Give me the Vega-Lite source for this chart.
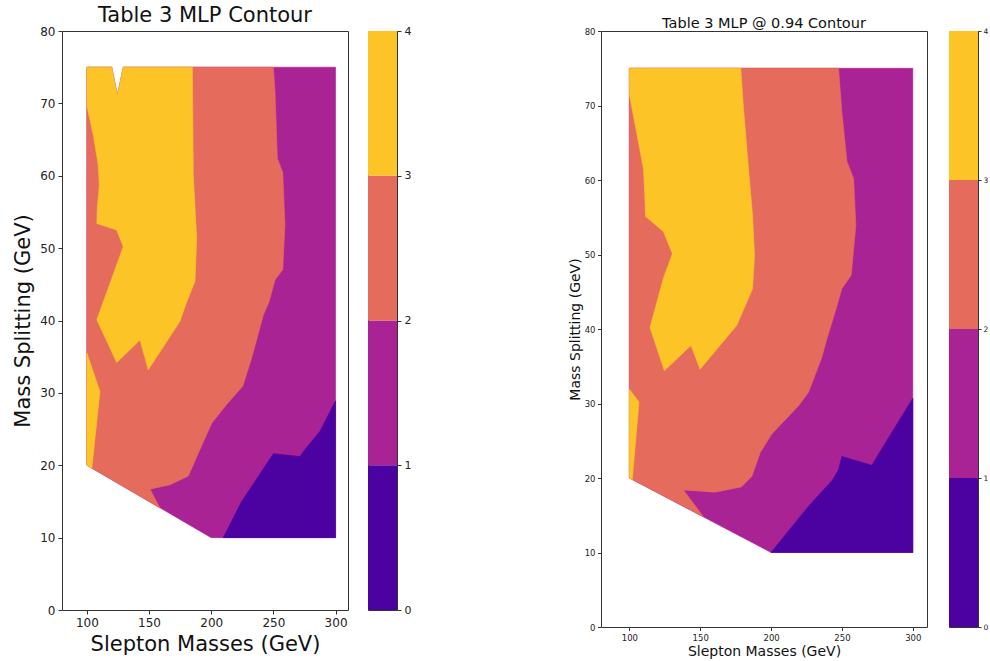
{
  "$schema": "https://vega.github.io/schema/vega-lite/v6.json",
  "padding": {"left": 12, "top": 4, "right": 0, "bottom": 0},
  "config": {
    "view": {"stroke": "#333", "strokeWidth": 1},
    "axis": {"grid": false, "domain": false, "labelFont": "DejaVu Sans", "titleFont": "DejaVu Sans", "titleFontWeight": "normal", "labelColor": "#222", "titleColor": "#111", "tickColor": "#333"},
    "title": {"font": "DejaVu Sans", "fontWeight": "normal", "color": "#111"}
  },
  "datasets": {
    "left": [
      {"p": "base", "lvl": "L1", "i": 0, "x": 100, "y": 75},
      {"p": "base", "lvl": "L1", "i": 1, "x": 120, "y": 75},
      {"p": "base", "lvl": "L1", "i": 2, "x": 124.5, "y": 71.1},
      {"p": "base", "lvl": "L1", "i": 3, "x": 129.3, "y": 75},
      {"p": "base", "lvl": "L1", "i": 4, "x": 300, "y": 75},
      {"p": "base", "lvl": "L1", "i": 5, "x": 300, "y": 10},
      {"p": "base", "lvl": "L1", "i": 6, "x": 200, "y": 10},
      {"p": "base", "lvl": "L1", "i": 7, "x": 100, "y": 20},
      {"p": "base", "lvl": "L1", "i": 8, "x": 100, "y": 75},
      {"p": "dark", "lvl": "L0", "i": 0, "x": 209.7, "y": 10},
      {"p": "dark", "lvl": "L0", "i": 1, "x": 224.5, "y": 15.0},
      {"p": "dark", "lvl": "L0", "i": 2, "x": 244.6, "y": 20.2},
      {"p": "dark", "lvl": "L0", "i": 3, "x": 250, "y": 21.6},
      {"p": "dark", "lvl": "L0", "i": 4, "x": 271.4, "y": 21.2},
      {"p": "dark", "lvl": "L0", "i": 5, "x": 274.1, "y": 21.9},
      {"p": "dark", "lvl": "L0", "i": 6, "x": 287.5, "y": 24.7},
      {"p": "dark", "lvl": "L0", "i": 7, "x": 300, "y": 28.9},
      {"p": "dark", "lvl": "L0", "i": 8, "x": 300, "y": 10},
      {"p": "dark", "lvl": "L0", "i": 9, "x": 209.7, "y": 10},
      {"p": "salmon", "lvl": "L2", "i": 0, "x": 100, "y": 75},
      {"p": "salmon", "lvl": "L2", "i": 1, "x": 120, "y": 75},
      {"p": "salmon", "lvl": "L2", "i": 2, "x": 124.5, "y": 71.1},
      {"p": "salmon", "lvl": "L2", "i": 3, "x": 129.3, "y": 75},
      {"p": "salmon", "lvl": "L2", "i": 4, "x": 250, "y": 75},
      {"p": "salmon", "lvl": "L2", "i": 5, "x": 251.3, "y": 71.6},
      {"p": "salmon", "lvl": "L2", "i": 6, "x": 253.2, "y": 62.4},
      {"p": "salmon", "lvl": "L2", "i": 7, "x": 257.5, "y": 60.5},
      {"p": "salmon", "lvl": "L2", "i": 8, "x": 259.3, "y": 53.2},
      {"p": "salmon", "lvl": "L2", "i": 9, "x": 257.5, "y": 47.0},
      {"p": "salmon", "lvl": "L2", "i": 10, "x": 251.3, "y": 45.6},
      {"p": "salmon", "lvl": "L2", "i": 11, "x": 246.5, "y": 42.6},
      {"p": "salmon", "lvl": "L2", "i": 12, "x": 242, "y": 40.8},
      {"p": "salmon", "lvl": "L2", "i": 13, "x": 232.5, "y": 34.8},
      {"p": "salmon", "lvl": "L2", "i": 14, "x": 225.3, "y": 30.9},
      {"p": "salmon", "lvl": "L2", "i": 15, "x": 212.4, "y": 28.4},
      {"p": "salmon", "lvl": "L2", "i": 16, "x": 200.4, "y": 25.8},
      {"p": "salmon", "lvl": "L2", "i": 17, "x": 191, "y": 22.2},
      {"p": "salmon", "lvl": "L2", "i": 18, "x": 181.6, "y": 18.5},
      {"p": "salmon", "lvl": "L2", "i": 19, "x": 166.9, "y": 17.3},
      {"p": "salmon", "lvl": "L2", "i": 20, "x": 150.8, "y": 16.7},
      {"p": "salmon", "lvl": "L2", "i": 21, "x": 158.8, "y": 14.1},
      {"p": "salmon", "lvl": "L2", "i": 22, "x": 100, "y": 20},
      {"p": "salmon", "lvl": "L2", "i": 23, "x": 100, "y": 75},
      {"p": "y1", "lvl": "L3", "i": 0, "x": 100, "y": 75},
      {"p": "y1", "lvl": "L3", "i": 1, "x": 120, "y": 75},
      {"p": "y1", "lvl": "L3", "i": 2, "x": 124.5, "y": 71.1},
      {"p": "y1", "lvl": "L3", "i": 3, "x": 129.3, "y": 75},
      {"p": "y1", "lvl": "L3", "i": 4, "x": 184.8, "y": 75},
      {"p": "y1", "lvl": "L3", "i": 5, "x": 185.6, "y": 60.1},
      {"p": "y1", "lvl": "L3", "i": 6, "x": 188.3, "y": 51.4},
      {"p": "y1", "lvl": "L3", "i": 7, "x": 186.9, "y": 45.4},
      {"p": "y1", "lvl": "L3", "i": 8, "x": 180.3, "y": 42.6},
      {"p": "y1", "lvl": "L3", "i": 9, "x": 174.9, "y": 39.9},
      {"p": "y1", "lvl": "L3", "i": 10, "x": 149.4, "y": 33.2},
      {"p": "y1", "lvl": "L3", "i": 11, "x": 142.7, "y": 37.3},
      {"p": "y1", "lvl": "L3", "i": 12, "x": 124, "y": 34.2},
      {"p": "y1", "lvl": "L3", "i": 13, "x": 108, "y": 40.1},
      {"p": "y1", "lvl": "L3", "i": 14, "x": 129.3, "y": 50.2},
      {"p": "y1", "lvl": "L3", "i": 15, "x": 124, "y": 52.5},
      {"p": "y1", "lvl": "L3", "i": 16, "x": 108, "y": 53.4},
      {"p": "y1", "lvl": "L3", "i": 17, "x": 108.4, "y": 55.5},
      {"p": "y1", "lvl": "L3", "i": 18, "x": 110, "y": 58.7},
      {"p": "y1", "lvl": "L3", "i": 19, "x": 109.2, "y": 61.4},
      {"p": "y1", "lvl": "L3", "i": 20, "x": 105.2, "y": 65.6},
      {"p": "y1", "lvl": "L3", "i": 21, "x": 100, "y": 69.7},
      {"p": "y1", "lvl": "L3", "i": 22, "x": 100, "y": 75},
      {"p": "y2", "lvl": "L3", "i": 0, "x": 100, "y": 35.5},
      {"p": "y2", "lvl": "L3", "i": 1, "x": 110.5, "y": 30.2},
      {"p": "y2", "lvl": "L3", "i": 2, "x": 104, "y": 19.6},
      {"p": "y2", "lvl": "L3", "i": 3, "x": 100, "y": 20},
      {"p": "y2", "lvl": "L3", "i": 4, "x": 100, "y": 35.5}
    ],
    "right": [
      {"p": "base", "lvl": "L1", "i": 0, "x": 100, "y": 75},
      {"p": "base", "lvl": "L1", "i": 1, "x": 300, "y": 75},
      {"p": "base", "lvl": "L1", "i": 2, "x": 300, "y": 10},
      {"p": "base", "lvl": "L1", "i": 3, "x": 200, "y": 10},
      {"p": "base", "lvl": "L1", "i": 4, "x": 100, "y": 20},
      {"p": "base", "lvl": "L1", "i": 5, "x": 100, "y": 75},
      {"p": "dark", "lvl": "L0", "i": 0, "x": 200, "y": 10},
      {"p": "dark", "lvl": "L0", "i": 1, "x": 226.4, "y": 16.2},
      {"p": "dark", "lvl": "L0", "i": 2, "x": 243.2, "y": 19.7},
      {"p": "dark", "lvl": "L0", "i": 3, "x": 247.6, "y": 21.1},
      {"p": "dark", "lvl": "L0", "i": 4, "x": 249.9, "y": 22.9},
      {"p": "dark", "lvl": "L0", "i": 5, "x": 271.1, "y": 21.7},
      {"p": "dark", "lvl": "L0", "i": 6, "x": 275.8, "y": 23.2},
      {"p": "dark", "lvl": "L0", "i": 7, "x": 300, "y": 30.7},
      {"p": "dark", "lvl": "L0", "i": 8, "x": 300, "y": 10},
      {"p": "dark", "lvl": "L0", "i": 9, "x": 200, "y": 10},
      {"p": "salmon", "lvl": "L2", "i": 0, "x": 100, "y": 75},
      {"p": "salmon", "lvl": "L2", "i": 1, "x": 247.6, "y": 75},
      {"p": "salmon", "lvl": "L2", "i": 2, "x": 249.9, "y": 69.2},
      {"p": "salmon", "lvl": "L2", "i": 3, "x": 253.5, "y": 62.5},
      {"p": "salmon", "lvl": "L2", "i": 4, "x": 258.2, "y": 60.2},
      {"p": "salmon", "lvl": "L2", "i": 5, "x": 259.8, "y": 53.9},
      {"p": "salmon", "lvl": "L2", "i": 6, "x": 256.5, "y": 47.2},
      {"p": "salmon", "lvl": "L2", "i": 7, "x": 249.9, "y": 45.4},
      {"p": "salmon", "lvl": "L2", "i": 8, "x": 245.2, "y": 42.3},
      {"p": "salmon", "lvl": "L2", "i": 9, "x": 239.4, "y": 38.7},
      {"p": "salmon", "lvl": "L2", "i": 10, "x": 235.8, "y": 36.2},
      {"p": "salmon", "lvl": "L2", "i": 11, "x": 226.4, "y": 31.5},
      {"p": "salmon", "lvl": "L2", "i": 12, "x": 219.4, "y": 29.7},
      {"p": "salmon", "lvl": "L2", "i": 13, "x": 200.5, "y": 25.9},
      {"p": "salmon", "lvl": "L2", "i": 14, "x": 192.3, "y": 23.4},
      {"p": "salmon", "lvl": "L2", "i": 15, "x": 186.4, "y": 20.2},
      {"p": "salmon", "lvl": "L2", "i": 16, "x": 178.9, "y": 18.8},
      {"p": "salmon", "lvl": "L2", "i": 17, "x": 160.5, "y": 18.1},
      {"p": "salmon", "lvl": "L2", "i": 18, "x": 138.1, "y": 18.4},
      {"p": "salmon", "lvl": "L2", "i": 19, "x": 152.3, "y": 14.8},
      {"p": "salmon", "lvl": "L2", "i": 20, "x": 100, "y": 20},
      {"p": "salmon", "lvl": "L2", "i": 21, "x": 100, "y": 75},
      {"p": "y1", "lvl": "L3", "i": 0, "x": 100, "y": 75},
      {"p": "y1", "lvl": "L3", "i": 1, "x": 178.6, "y": 75},
      {"p": "y1", "lvl": "L3", "i": 2, "x": 180.5, "y": 69.7},
      {"p": "y1", "lvl": "L3", "i": 3, "x": 184, "y": 61.6},
      {"p": "y1", "lvl": "L3", "i": 4, "x": 186.9, "y": 55.3},
      {"p": "y1", "lvl": "L3", "i": 5, "x": 188.3, "y": 49.9},
      {"p": "y1", "lvl": "L3", "i": 6, "x": 186.9, "y": 45.4},
      {"p": "y1", "lvl": "L3", "i": 7, "x": 175.8, "y": 40.5},
      {"p": "y1", "lvl": "L3", "i": 8, "x": 149.9, "y": 34.6},
      {"p": "y1", "lvl": "L3", "i": 9, "x": 143.5, "y": 37.8},
      {"p": "y1", "lvl": "L3", "i": 10, "x": 124.7, "y": 34.4},
      {"p": "y1", "lvl": "L3", "i": 11, "x": 114.6, "y": 40.2},
      {"p": "y1", "lvl": "L3", "i": 12, "x": 124, "y": 46.8},
      {"p": "y1", "lvl": "L3", "i": 13, "x": 130.4, "y": 50.1},
      {"p": "y1", "lvl": "L3", "i": 14, "x": 124, "y": 53.1},
      {"p": "y1", "lvl": "L3", "i": 15, "x": 111.5, "y": 55.1},
      {"p": "y1", "lvl": "L3", "i": 16, "x": 110.6, "y": 59.1},
      {"p": "y1", "lvl": "L3", "i": 17, "x": 109.9, "y": 61.6},
      {"p": "y1", "lvl": "L3", "i": 18, "x": 105.2, "y": 66.3},
      {"p": "y1", "lvl": "L3", "i": 19, "x": 100, "y": 71.5},
      {"p": "y1", "lvl": "L3", "i": 20, "x": 100, "y": 75},
      {"p": "y2", "lvl": "L3", "i": 0, "x": 100, "y": 31.9},
      {"p": "y2", "lvl": "L3", "i": 1, "x": 106.8, "y": 30.2},
      {"p": "y2", "lvl": "L3", "i": 2, "x": 102.1, "y": 19.8},
      {"p": "y2", "lvl": "L3", "i": 3, "x": 100, "y": 20},
      {"p": "y2", "lvl": "L3", "i": 4, "x": 100, "y": 31.9}
    ],
    "cb": [
      {"lo": 0, "hi": 1, "lvl": "L0"},
      {"lo": 1, "hi": 2, "lvl": "L1"},
      {"lo": 2, "hi": 3, "lvl": "L2"},
      {"lo": 3, "hi": 4, "lvl": "L3"}
    ]
  },
  "spacing": 155,
  "hconcat": [
    {
      "spacing": 18,
      "hconcat": [
        {
          "width": 286,
          "height": 579,
          "title": {"text": "Table 3 MLP Contour", "fontSize": 21, "offset": -1},
          "data": {"name": "left"},
          "encoding": {
            "x": {"field": "x", "type": "quantitative", "scale": {"domain": [80, 310], "nice": false, "zero": false},
                  "axis": {"values": [100, 150, 200, 250, 300], "title": "Slepton Masses (GeV)", "titleFontSize": 21, "labelFontSize": 12, "tickSize": 4, "labelPadding": 3, "titlePadding": 5}},
            "y": {"field": "y", "type": "quantitative", "scale": {"domain": [0, 80], "nice": false, "zero": false},
                  "axis": {"values": [0, 10, 20, 30, 40, 50, 60, 70, 80], "title": "Mass Splitting (GeV)", "titleFontSize": 21, "labelFontSize": 12, "tickSize": 4, "labelPadding": 3, "titlePadding": 6}},
            "order": {"field": "i", "type": "quantitative"},
            "detail": {"field": "p", "type": "nominal"},
            "fill": {"field": "lvl", "type": "nominal", "scale": {"domain": ["L0", "L1", "L2", "L3"], "range": ["#4c02a1", "#a92395", "#e56b5d", "#fdc427"]}, "legend": null},
            "stroke": {"field": "lvl", "type": "nominal", "scale": {"domain": ["L0", "L1", "L2", "L3"], "range": ["#4c02a1", "#a92395", "#e56b5d", "#fdc427"]}, "legend": null}
          },
          "layer": [
            {"transform": [{"filter": "datum.p === 'base'"}], "mark": {"type": "line", "strokeWidth": 0.6}},
            {"transform": [{"filter": "datum.p === 'dark'"}], "mark": {"type": "line", "strokeWidth": 0.6}},
            {"transform": [{"filter": "datum.p === 'salmon'"}], "mark": {"type": "line", "strokeWidth": 0.6}},
            {"transform": [{"filter": "datum.p === 'y1' || datum.p === 'y2'"}], "mark": {"type": "line", "strokeWidth": 0.6}}
          ]
        },
        {
          "width": 29,
          "height": 579,
          "data": {"name": "cb"},
          "mark": {"type": "rect"},
          "encoding": {
            "y": {"field": "lo", "type": "quantitative", "scale": {"domain": [0, 4], "nice": false, "zero": false},
                  "axis": {"orient": "right", "values": [0, 1, 2, 3, 4], "title": null, "labelFontSize": 11, "tickSize": 4, "labelPadding": 3}},
            "y2": {"field": "hi"},
            "fill": {"field": "lvl", "type": "nominal", "legend": null}
          }
        }
      ]
    },
    {
      "spacing": 20,
      "hconcat": [
        {
          "width": 326,
          "height": 596,
          "title": {"text": "Table 3 MLP @ 0.94 Contour", "fontSize": 14.5, "offset": -4},
          "data": {"name": "right"},
          "encoding": {
            "x": {"field": "x", "type": "quantitative", "scale": {"domain": [80, 310], "nice": false, "zero": false},
                  "axis": {"values": [100, 150, 200, 250, 300], "title": "Slepton Masses (GeV)", "titleFontSize": 14, "labelFontSize": 8.5, "tickSize": 3.5, "labelPadding": 2.5, "titlePadding": 3}},
            "y": {"field": "y", "type": "quantitative", "scale": {"domain": [0, 80], "nice": false, "zero": false},
                  "axis": {"values": [0, 10, 20, 30, 40, 50, 60, 70, 80], "title": "Mass Splitting (GeV)", "titleFontSize": 14, "labelFontSize": 8.5, "tickSize": 3.5, "labelPadding": 2.5, "titlePadding": 2}},
            "order": {"field": "i", "type": "quantitative"},
            "detail": {"field": "p", "type": "nominal"},
            "fill": {"field": "lvl", "type": "nominal", "legend": null},
            "stroke": {"field": "lvl", "type": "nominal", "legend": null}
          },
          "layer": [
            {"transform": [{"filter": "datum.p === 'base'"}], "mark": {"type": "line", "strokeWidth": 0.6}},
            {"transform": [{"filter": "datum.p === 'dark'"}], "mark": {"type": "line", "strokeWidth": 0.6}},
            {"transform": [{"filter": "datum.p === 'salmon'"}], "mark": {"type": "line", "strokeWidth": 0.6}},
            {"transform": [{"filter": "datum.p === 'y1' || datum.p === 'y2'"}], "mark": {"type": "line", "strokeWidth": 0.6}}
          ]
        },
        {
          "width": 29,
          "height": 596,
          "data": {"name": "cb"},
          "mark": {"type": "rect"},
          "encoding": {
            "y": {"field": "lo", "type": "quantitative", "scale": {"domain": [0, 4], "nice": false, "zero": false},
                  "axis": {"orient": "right", "values": [0, 1, 2, 3, 4], "title": null, "labelFontSize": 7.5, "tickSize": 3, "labelPadding": 2}},
            "y2": {"field": "hi"},
            "fill": {"field": "lvl", "type": "nominal", "legend": null}
          }
        }
      ]
    }
  ]
}
